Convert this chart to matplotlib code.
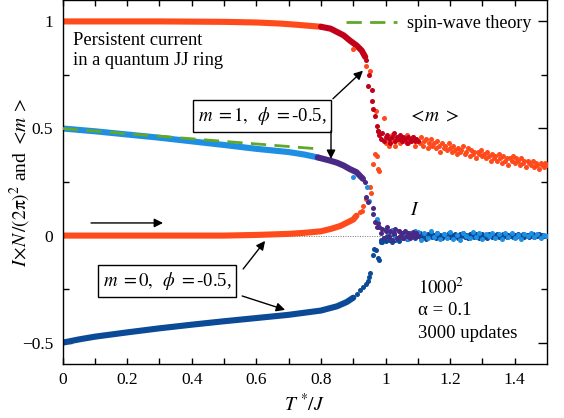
import matplotlib
matplotlib.use("Agg")
import matplotlib.pyplot as plt
import numpy as np

plt.rcParams["font.family"] = "serif"
plt.rcParams["font.serif"] = ["Liberation Serif", "DejaVu Serif"]
plt.rcParams["mathtext.fontset"] = "stix"

# ---- colours ------------------------------------------------------------- #
ORANGE = "#ff4a1c"
DARKRED = "#c20019"
LBLUE = "#1e8fe3"
PURPLE = "#4a2886"
DBLUE = "#0b4a96"
GREEN = "#5fa82a"

# ---- dense low-T branches ------------------------------------------------ #
m1_T = [0.0, 0.3, 0.5, 0.6, 0.674, 0.72, 0.76, 0.80]
m1_m = [1.0, 1.0, 0.998, 0.995, 0.99, 0.985, 0.98, 0.975]
m1r_T = [0.80, 0.83, 0.87, 0.89, 0.91, 0.926, 0.937]
m1r_m = [0.975, 0.966, 0.935, 0.91, 0.888, 0.864, 0.834]

m1_IT = [0.0, 0.1, 0.2, 0.3, 0.4, 0.5, 0.6, 0.7, 0.75, 0.79]
m1_I = [0.5, 0.487, 0.472, 0.457, 0.44, 0.423, 0.405, 0.39, 0.378, 0.365]
m1p_T = [0.79, 0.828, 0.85, 0.87, 0.89, 0.91, 0.92, 0.93]
m1p_I = [0.365, 0.35, 0.34, 0.327, 0.31, 0.296, 0.28, 0.265]

m0_T = [0.0, 0.5, 0.6, 0.7, 0.75, 0.8, 0.83, 0.86, 0.88, 0.9, 0.91]
m0_m = [0.0, 0.0, 0.003, 0.008, 0.013, 0.02, 0.031, 0.045, 0.06, 0.075, 0.093]
m0_IT = [0.0, 0.05, 0.1, 0.2, 0.3, 0.4, 0.5, 0.6, 0.7, 0.75, 0.8, 0.85, 0.88, 0.9]
m0_I = [-0.5, -0.485, -0.472, -0.452, -0.433, -0.416, -0.40, -0.385, -0.37,
        -0.36, -0.35, -0.33, -0.31, -0.29]

# spin-wave theory
sw_T = [0.0, 0.79]
sw_I = [0.5, 0.405]

# ---- sparse points through the transition -------------------------------- #
or_T = [0.90, 0.94, 0.952, 0.97, 0.995, 0.92, 0.926, 0.931, 0.94, 0.951,
        0.954, 0.962, 0.967, 0.972, 0.978, 0.98]
or_y = [0.87, 0.79, 0.77, 0.58, 0.55, 0.11, 0.117, 0.14, 0.17, 0.226,
        0.20, 0.335, 0.38, 0.37, 0.31, 0.30]
dr_T = [0.94, 0.95, 0.947, 0.957, 0.957, 0.962, 0.967, 0.973, 0.978]
dr_y = [0.82, 0.75, 0.70, 0.68, 0.63, 0.59, 0.56, 0.51, 0.49]
pu_T = [0.937, 0.94, 0.947, 0.96, 0.962, 0.967, 0.972]
pu_y = [0.25, 0.18, 0.156, 0.13, 0.10, 0.063, 0.04]
lb_T = [0.90, 0.941, 0.95, 0.972]
lb_y = [0.273, 0.226, 0.16, 0.078]
db_T = [0.91, 0.92, 0.93, 0.94, 0.945, 0.95, 0.952, 0.96, 0.965, 0.97,
        0.975, 0.98, 0.985]
db_y = [-0.275, -0.255, -0.24, -0.225, -0.21, -0.195, -0.175, -0.093,
        -0.062, -0.065, -0.105, -0.113, -0.03]

# ---- noisy clouds above T_c (grid start, step, values) -------------------- #
m_cloud_start, m_cloud_step = 1.0, 0.005
m_cloud = [0.43, 0.46, 0.42, 0.45, 0.47, 0.44, 0.42, 0.46, 0.45, 0.43,
           0.46, 0.44, 0.45, 0.47, 0.43, 0.45, 0.44, 0.46, 0.42, 0.45,
           0.44, 0.43, 0.46, 0.42, 0.44, 0.45, 0.41, 0.43, 0.45, 0.42,
           0.43, 0.41, 0.44, 0.42, 0.39, 0.43, 0.41, 0.42, 0.40, 0.43,
           0.41, 0.39, 0.42, 0.40, 0.38, 0.41, 0.39, 0.40, 0.42, 0.38,
           0.39, 0.41, 0.37, 0.40, 0.38, 0.39, 0.36, 0.39, 0.38, 0.40,
           0.37, 0.38, 0.36, 0.39, 0.37, 0.35, 0.38, 0.36, 0.37, 0.35,
           0.38, 0.36, 0.34, 0.37, 0.35, 0.36, 0.33, 0.36, 0.35, 0.37,
           0.34, 0.36, 0.35, 0.33, 0.36, 0.34, 0.35, 0.32, 0.35, 0.34,
           0.33, 0.35, 0.32, 0.34, 0.33, 0.31, 0.34, 0.33, 0.32, 0.34, 0.33]
dr_cloud_start, dr_cloud_step = 0.975, 0.005
dr_cloud = [0.49, 0.47, 0.45, 0.48, 0.44, 0.46, 0.47, 0.45, 0.43, 0.46,
            0.48, 0.44, 0.46, 0.45, 0.47, 0.44, 0.46, 0.45, 0.43, 0.46,
            0.45, 0.44, 0.46, 0.44, 0.45, 0.44]
pu_cloud_start, pu_cloud_step = 0.975, 0.005
pu_cloud = [0.06, 0.04, 0.01, 0.03, -0.01, 0.02, 0.04, 0.0, 0.02, -0.02,
            0.01, 0.03, -0.01, 0.02, 0.0, 0.01, -0.01, 0.02, 0.0, 0.01,
            -0.01, 0.005, 0.015, -0.005, 0.01, 0.0]
db_cloud_start, db_cloud_step = 0.985, 0.005
db_cloud = [-0.02, -0.03, -0.01, -0.025, 0.0, -0.02, -0.015, -0.03, 0.005,
            -0.02, -0.01, -0.025, -0.005,
            0.01, -0.01, 0.005, -0.015, 0.0, 0.012, -0.008, 0.004, -0.012, 0.008,
            -0.004, 0.01, -0.01, 0.0, 0.006, -0.014, 0.008, -0.002, 0.01, -0.008,
            0.004, -0.01, 0.012, -0.004, 0.002, -0.012, 0.006, 0.0, -0.008, 0.01,
            -0.006, 0.004, -0.01, 0.008, 0.0, -0.012, 0.006, -0.004, 0.01, -0.006,
            0.002, -0.01, 0.008, -0.002, 0.004, -0.008, 0.006, 0.0, -0.01, 0.004,
            0.008, -0.006, 0.002, -0.01, 0.006, 0.0, -0.008, 0.004, -0.004, 0.008,
            -0.006, 0.002, -0.01, 0.006, 0.0, -0.008, 0.004, -0.002, 0.008, -0.006,
            0.002, -0.008, 0.006, 0.0, -0.004, 0.006, -0.008, 0.002, 0.004, -0.006,
            0.0, 0.006, -0.008, 0.004, -0.002, 0.006, -0.006, 0.002, -0.004]
lb_cloud_start, lb_cloud_step = 1.0, 0.01
lb_cloud = [0.03, 0.01, 0.025, -0.01, 0.02, 0.0, 0.015, -0.015, 0.01, 0.02,
            0.015, -0.02, 0.01, -0.012, 0.02, -0.005, 0.012, -0.018, 0.008, -0.01,
            0.018, -0.015, 0.005, -0.02, 0.012, 0.0, -0.012, 0.016, -0.008, 0.01,
            -0.016, 0.008, -0.004, 0.014, -0.012, 0.006, -0.018, 0.01, -0.006, 0.012,
            -0.01, 0.004, -0.014, 0.008, -0.004, 0.01, -0.008, 0.006, -0.01, 0.004, 0.0]


def grid(start, step, vals):
    return start + step * np.arange(len(vals))


fig = plt.figure(figsize=(5.64, 4.18), dpi=100)
ax = fig.add_axes((0.111, 0.129, 0.859, 0.871))

ax.axhline(0, color="0.45", ls=(0, (1, 1.5)), lw=0.7, zorder=1)

LW = 4.4
S = 13
line_kw = dict(lw=LW, solid_capstyle="round", zorder=2)
ax.plot(m0_IT, m0_I, color=DBLUE, **line_kw)
ax.plot(m1_IT, m1_I, color=LBLUE, **line_kw)
ax.plot(m1p_T, m1p_I, color=PURPLE, **line_kw)
ax.plot(m0_T, m0_m, color=ORANGE, **line_kw)
ax.plot(m1_T, m1_m, color=ORANGE, **line_kw)
ax.plot(m1r_T, m1r_m, color=DARKRED, **line_kw)

sc_kw = dict(s=S, linewidths=0, zorder=3)
ax.scatter(grid(m_cloud_start, m_cloud_step, m_cloud), m_cloud, color=ORANGE, **sc_kw)
ax.scatter(grid(dr_cloud_start, dr_cloud_step, dr_cloud), dr_cloud, color=DARKRED, **sc_kw)
ax.scatter(grid(db_cloud_start, db_cloud_step, db_cloud), db_cloud, color=DBLUE, **sc_kw)
ax.scatter(grid(lb_cloud_start, lb_cloud_step, lb_cloud), lb_cloud, color=LBLUE, **sc_kw)
ax.scatter(grid(pu_cloud_start, pu_cloud_step, pu_cloud), pu_cloud, color=PURPLE, **sc_kw)
ax.scatter(or_T, or_y, color=ORANGE, **sc_kw)
ax.scatter(dr_T, dr_y, color=DARKRED, **sc_kw)
ax.scatter(lb_T, lb_y, color=LBLUE, **sc_kw)
ax.scatter(pu_T, pu_y, color=PURPLE, **sc_kw)
ax.scatter(db_T, db_y, color=DBLUE, **sc_kw)

ax.plot(sw_T, sw_I, color=GREEN, lw=2, dashes=(5.5, 3), zorder=4,
        label="spin-wave theory")

ax.set_xlim(0, 1.5)
ax.set_ylim(-0.6, 1.1)
ax.set_xticks([0, 0.2, 0.4, 0.6, 0.8, 1.0, 1.2, 1.4])
ax.set_xticklabels(["0", "0.2", "0.4", "0.6", "0.8", "1", "1.2", "1.4"])
ax.set_xticks(np.arange(0.1, 1.5, 0.2), minor=True)
ax.set_yticks([-0.5, 0, 0.5, 1])
ax.set_yticklabels(["\u22120.5", "0", "0.5", "1"])
ax.set_yticks([-0.25, 0.25, 0.75], minor=True)
ax.tick_params(which="both", direction="in", top=True, right=True,
               labelsize=12.5, width=1)
ax.tick_params(axis="x", which="both", length=4.5, pad=6)
ax.tick_params(axis="y", which="major", length=6.5, pad=7)
ax.tick_params(axis="y", which="minor", length=4.5)
for sp in ax.spines.values():
    sp.set_linewidth(1)

ax.set_xlabel(r"$T^{\,*}\!/J$", fontsize=14, labelpad=3)
ax.set_ylabel(r"$I\!\times\!N\,/(2\mathrm{\pi})^2$ and $<\!m\,>$", fontsize=14)
ax.yaxis.set_label_coords(-0.062, 0.5)

ax.legend(loc="upper right", frameon=False, fontsize=13, handlelength=2.8,
          borderaxespad=0.45, handletextpad=0.6)

ax.text(0.033, 0.95, "Persistent current\nin a quantum JJ ring", fontsize=13.3,
        va="top", ha="left", linespacing=1.2)
ax.text(1.10, -0.245, r"$1000^2$", fontsize=13.5, va="center")
ax.text(1.10, -0.352, "\u03b1 = 0.1", fontsize=13.5, va="center")
ax.text(1.10, -0.455, "3000 updates", fontsize=13.5, va="center")
ax.text(1.07, 0.56, r"$<\!m\;>$", fontsize=14, va="center")
ax.text(1.076, 0.115, r"$I$", fontsize=14, va="center")

box = dict(boxstyle="square,pad=0.25", fc="white", ec="black", lw=1)
ax.text(0.618, 0.559, r"$m\;=1,\;\;\phi\;=$-0.5,", fontsize=13.5,
        ha="center", va="center", bbox=box, zorder=5)
ax.text(0.323, -0.212, r"$m\;=0,\;\;\phi\;=$-0.5,", fontsize=13.5,
        ha="center", va="center", bbox=box, zorder=5)

arrow = dict(arrowstyle="-|>", color="black", lw=1, mutation_scale=13,
             shrinkA=0, shrinkB=0)
for tail, head in [((0.837, 0.639), (0.930, 0.77)),
                   ((0.831, 0.489), (0.831, 0.358)),
                   ((0.559, -0.156), (0.627, -0.025)),
                   ((0.556, -0.282), (0.689, -0.347)),
                   ((0.088, 0.059), (0.311, 0.059))]:
    ax.annotate("", xy=head, xytext=tail, arrowprops=arrow, zorder=5)

fig.savefig("out.png", dpi=100)
